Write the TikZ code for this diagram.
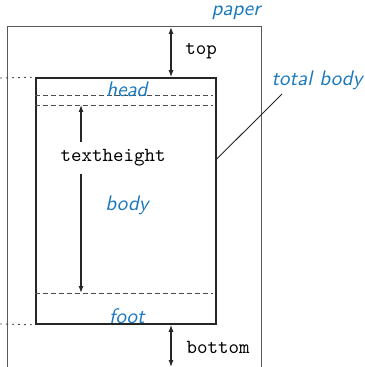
\documentclass[tikz,border=0pt]{standalone}
\usepackage{tikz}
\usetikzlibrary{arrows.meta, positioning}
\definecolor{labelblue}{RGB}{25,120,190}

\begin{document}
\begin{tikzpicture}[x=0.5pt, y=-0.5pt,
        tbody/.style={rectangle, draw=black!85, line width=0.8pt, minimum width=90pt, minimum height=123pt, inner sep=0pt},
        paperline/.style={draw=black!65, line width=0.5pt},
        guide/.style={draw=black!70, line width=0.45pt, dash pattern=on 2.5pt off 1.5pt},
        leader/.style={draw=black!70, line width=0.45pt, dash pattern=on 1pt off 2pt},
        dim/.style={{Latex[length=3.5pt,width=2.5pt]}-{Latex[length=3.5pt,width=2.5pt]}, line width=0.6pt, black!85},
        lbl/.style={text=labelblue, font=\fontsize{10.5}{12}\selectfont\sffamily\itshape, inner sep=1pt},
        len/.style={font=\ttfamily, inner sep=1pt}
    ]
        \useasboundingbox (0,0) rectangle (364,367);
        % paper
        \draw[paperline] (7,367) |- (261,27) -- (261,367);
        \node[lbl] (paper) at (236,13) {paper};
        % total body
        \node[tbody] (tb) at (126,201) {};
        \coordinate (hd1) at (tb.west |- 0,95);
        \coordinate (hd2) at (tb.west |- 0,105);
        \coordinate (ft) at (tb.west |- 0,293);
        \draw[guide] (hd1) -- (hd1 -| 213,0);
        \draw[guide] (hd2) -- (hd2 -| 213,0);
        \draw[guide] (ft) -- (ft -| 213,0);
        \draw[leader] (0,78) -- (tb.north west);
        \draw[leader] (0,324) -- (tb.south west);
        \node[lbl] (head) at (127,89) {head};
        \node[lbl] (body) at (127,205) {body};
        \node[lbl] (foot) at (127,316) {foot};
        \node[lbl] (total) at (317,80) {total body};
        \draw[black!85, line width=0.45pt] (tb.east |- 0,159) -- (282,94);
        % margins
        \coordinate (ptop) at (171,27);
        \coordinate (pbot) at (171,367);
        \draw[dim] (ptop) -- (tb.north -| ptop);
        \node[len] (top) at (201,51) {top};
        \draw[dim] (tb.south -| pbot) -- (pbot);
        \node[len] (bottom) at (218,347) {bottom};
        % textheight
        \draw[dim] (hd2 -| 81,0) -- (ft -| 81,0);
        \node[len, fill=white, inner sep=4pt] (th) at (113,158) {textheight};
    \end{tikzpicture}
\end{document}
